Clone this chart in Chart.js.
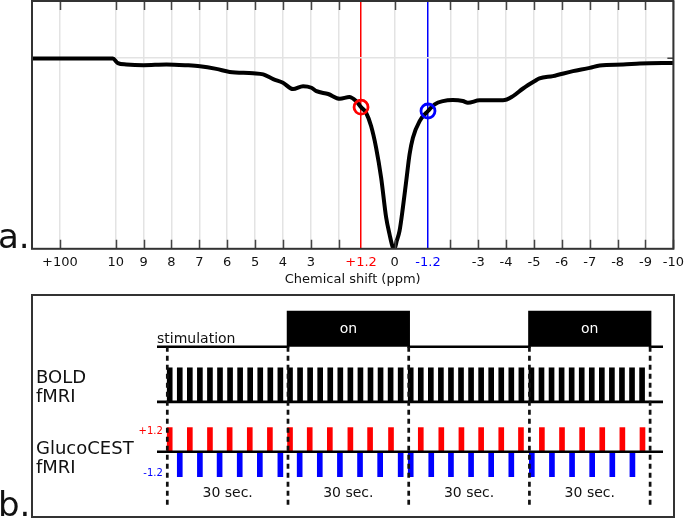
<!DOCTYPE html>
<html>
<head>
<meta charset="utf-8">
<script src="https://cdn.jsdelivr.net/npm/chart.js@4.4.1/dist/chart.umd.min.js"></script>
<style>
  html, body { margin: 0; padding: 0; background: #fff; }
  body { width: 685px; height: 519px; position: relative; overflow: hidden; font-family: "DejaVu Sans", sans-serif; color: #111; }
  #zChart { position: absolute; left: 0; top: 0; }
  #tChart { position: absolute; left: 0; top: 290px; }
  .box-b { position: absolute; left: 31px; top: 294px; width: 640px; height: 220px; border: 2px solid #333; }
  .big { position: absolute; left: -2px; font-size: 34px; line-height: 34px; }
  .row-label { position: absolute; left: 36px; font-size: 18px; line-height: 19px; }
</style>
</head>
<body>
<div class="box-b"></div>
<canvas id="zChart" width="690" height="287"></canvas>
<canvas id="tChart" width="685" height="229"></canvas>
<div class="big" style="top:219px">a.</div>
<div class="big" style="top:487px">b.</div>
<div class="row-label" style="top:367px">BOLD<br>fMRI</div>
<div class="row-label" style="top:438px">GlucoCEST<br>fMRI</div>

<script>
// ---- panel a: Z-spectrum ----
// x position 12 stands for the +100 ppm reference point
const ppmTicks = [12, 10, 9, 8, 7, 6, 5, 4, 3, 2, 1.2, 0, -1.2, -2, -3, -4, -5, -6, -7, -8, -9, -10];
const ppmTickLabels = ['+100', '10', '9', '8', '7', '6', '5', '4', '3', '', '+1.2', '0', '-1.2', '', '-3', '-4', '-5', '-6', '-7', '-8', '-9', '-10'];

const shiftPpm = [13.0, 12.0, 10.1, 9.92, 9.62, 9.0, 8.18, 7.46, 6.98, 6.39, 5.91, 5.07, 4.71, 4.35, 4.0, 3.64,
  3.28, 2.98, 2.8, 2.38, 1.96, 1.62, 1.38, 1.2, 1.02, 0.84, 0.66, 0.48, 0.3, 0.18, 0.06, 0,
  -0.08, -0.18, -0.3, -0.42, -0.54, -0.66, -0.9, -1.2, -1.44, -1.74, -2.09, -2.45, -2.63, -3.05, -3.41, -3.89,
  -4.25, -4.61, -5.03, -5.2, -5.68, -6.4, -7.0, -7.36, -8.2, -8.8, -10.0];
const zSignal = [0.998, 0.998, 0.998, 0.974, 0.967, 0.963, 0.967, 0.963, 0.958, 0.944, 0.928, 0.921, 0.915, 0.89, 0.871, 0.838,
  0.853, 0.845, 0.827, 0.812, 0.787, 0.796, 0.775, 0.743, 0.714, 0.644, 0.53, 0.373, 0.164, 0.077, 0.007, 0,
  0.042, 0.094, 0.216, 0.356, 0.496, 0.583, 0.67, 0.723, 0.758, 0.775, 0.78, 0.775, 0.766, 0.779, 0.779, 0.779,
  0.801, 0.841, 0.88, 0.894, 0.906, 0.932, 0.949, 0.962, 0.967, 0.972, 0.975];

const markerPpm = [1.2, -1.2];
const markerSignal = [0.743, 0.723];
const markerColors = ['#ff0000', '#0000ff'];

const RED = '#ff0000';
const BLUE = '#0000ff';

function tickColor(v) {
  if (v === 1.2) return RED;
  if (v === -1.2) return BLUE;
  return null;
}

// inward tick marks + plot frame
const frameTicks = {
  id: 'frameTicks',
  afterDraw(chart) {
    const { ctx, chartArea: a, scales } = chart;
    ctx.save();
    ctx.strokeStyle = '#444';
    ctx.lineWidth = 1.5;
    ctx.beginPath();
    ppmTicks.forEach(v => {
      if (tickColor(v)) return;
      const x = Math.round(scales.x.getPixelForValue(v)) + 0.5;
      ctx.moveTo(x, a.top);
      ctx.lineTo(x, a.top + 9);
      ctx.moveTo(x, a.bottom);
      ctx.lineTo(x, a.bottom - 9);
    });
    const y1 = scales.y.getPixelForValue(1);
    ctx.moveTo(a.right, y1);
    ctx.lineTo(a.right - 6, y1);
    ctx.stroke();
    ctx.strokeStyle = '#333';
    ctx.lineWidth = 2;
    ctx.strokeRect(a.left, a.top, a.right - a.left, a.bottom - a.top);
    ctx.restore();
  }
};

new Chart(document.getElementById('zChart'), {
  type: 'line',
  data: {
    datasets: [
      {
        data: shiftPpm.map((x, i) => ({ x: x, y: zSignal[i] })),
        borderColor: '#000',
        borderWidth: 4,
        pointRadius: 0,
        cubicInterpolationMode: 'monotone',
        order: 2
      },
      {
        type: 'scatter',
        data: markerPpm.map((x, i) => ({ x: x, y: markerSignal[i] })),
        pointRadius: 7,
        pointBorderWidth: 2.8,
        pointBackgroundColor: 'rgba(0,0,0,0)',
        pointBorderColor: markerColors,
        order: 1
      }
    ]
  },
  options: {
    responsive: false,
    animation: false,
    layout: { autoPadding: false, padding: { left: 32, right: 12, top: 1, bottom: 0 } },
    plugins: { legend: { display: false }, tooltip: { enabled: false } },
    scales: {
      x: {
        type: 'linear',
        reverse: true,
        min: -10,
        max: 13,
        afterBuildTicks: scale => { scale.ticks = ppmTicks.map(v => ({ value: v })); },
        grid: {
          drawTicks: false,
          color: c => tickColor(c.tick && c.tick.value) || '#e3e3e3',
          lineWidth: 1.5
        },
        border: { display: false },
        ticks: {
          autoSkip: false,
          maxRotation: 0,
          padding: 6,
          font: { family: 'DejaVu Sans', size: 13 },
          color: c => tickColor(c.tick && c.tick.value) || '#111',
          callback: (v, i) => ppmTickLabels[i]
        },
        title: {
          display: true,
          text: 'Chemical shift (ppm)',
          color: '#111',
          font: { family: 'DejaVu Sans', size: 13 },
          padding: { top: -5, bottom: 0 }
        }
      },
      y: {
        min: 0,
        max: 1.3,
        afterBuildTicks: scale => { scale.ticks = [{ value: 1 }]; },
        ticks: { display: false },
        grid: { drawTicks: false, color: '#e3e3e3', lineWidth: 1.5 },
        border: { display: false }
      }
    }
  },
  plugins: [frameTicks]
});

// ---- panel b: acquisition timing ----
const blockEdges = [0, 30, 60, 90, 120];
const blockLabels = ['30 sec.', '30 sec.', '30 sec.', '30 sec.'];
const stimOnStart = [30, 90];
const stimOnEnd = [60, 120];

const boldTimes = [0.6, 3.1, 5.6, 8.1, 10.6, 13.1, 15.6, 18.1, 20.6, 23.1, 25.6, 28.1,
  30.5, 33.0, 35.5, 38.0, 40.5, 43.0, 45.5, 48.0, 50.5, 53.0, 55.5, 58.0,
  60.5, 63.0, 65.5, 68.0, 70.5, 73.0, 75.5, 78.0, 80.5, 83.0, 85.5, 88.0,
  90.5, 93.0, 95.5, 98.0, 100.5, 103.0, 105.5, 108.0, 110.5, 113.0, 115.5, 118.0];
const plusTimes = [0.6, 5.6, 10.6, 15.5, 20.5, 25.5, 30.5, 35.4, 40.4, 45.5, 50.4, 55.6,
  63.0, 68.1, 73.1, 78.0, 83.0, 87.9, 93.1, 98.1, 103.1, 108.1, 113.1, 118.1];
const minusTimes = [3.1, 8.1, 13.0, 18.0, 23.0, 28.1, 32.9, 37.9, 42.9, 47.9, 52.9, 58.0,
  60.5, 65.6, 70.5, 75.5, 80.5, 85.5, 90.6, 95.6, 100.6, 105.6, 110.6, 115.6];

// vertical layout of the rows (y units)
const tMin = -2.56, tMax = 123.2;
const rows = {
  yMin: -1.98, yMax: 4.76,
  stimBase: 3.09, stimTop: 4.11,
  boldBase: 1.47, boldTop: 2.47,
  glucoBase: 0, plusTop: 0.71, minusBottom: -0.735,
  dashBottom: -1.57,
  secLabel: -1.215, onLabel: 3.61, stimLabel: 3.2,
  plusLabel: 0.59, minusLabel: -0.63
};

const stimPoints = [{ x: tMin, y: rows.stimBase }];
stimOnStart.forEach((s, i) => {
  stimPoints.push({ x: s, y: rows.stimBase }, { x: s, y: rows.stimTop },
    { x: stimOnEnd[i], y: rows.stimTop }, { x: stimOnEnd[i], y: rows.stimBase });
});
stimPoints.push({ x: tMax, y: rows.stimBase });

const dashPoints = [];
blockEdges.forEach(t => {
  dashPoints.push({ x: t, y: rows.stimBase }, { x: t, y: rows.dashBottom }, { x: t, y: null });
});

const timingText = {
  id: 'timingText',
  afterDraw(chart) {
    const { ctx, scales: { x, y }, chartArea: a } = chart;
    ctx.save();
    ctx.font = '14px "DejaVu Sans"';
    ctx.textBaseline = 'middle';
    ctx.textAlign = 'center';
    ctx.fillStyle = '#111';
    blockLabels.forEach((lab, i) => {
      ctx.fillText(lab, x.getPixelForValue((blockEdges[i] + blockEdges[i + 1]) / 2), y.getPixelForValue(rows.secLabel));
    });
    ctx.fillStyle = '#fff';
    stimOnStart.forEach((s, i) => {
      ctx.fillText('on', x.getPixelForValue((s + stimOnEnd[i]) / 2), y.getPixelForValue(rows.onLabel));
    });
    ctx.fillStyle = '#111';
    ctx.textAlign = 'left';
    ctx.textBaseline = 'alphabetic';
    ctx.fillText('stimulation', a.left, y.getPixelForValue(rows.stimLabel));
    ctx.font = '10px "DejaVu Sans"';
    ctx.textAlign = 'right';
    ctx.textBaseline = 'middle';
    const xr = x.getPixelForValue(0) - 4.5;
    ctx.fillStyle = RED;
    ctx.fillText('+1.2', xr, y.getPixelForValue(rows.plusLabel));
    ctx.fillStyle = BLUE;
    ctx.fillText('-1.2', xr, y.getPixelForValue(rows.minusLabel));
    ctx.restore();
  }
};

function baseline(level) {
  return {
    type: 'line',
    data: [{ x: tMin, y: level }, { x: tMax, y: level }],
    borderColor: '#000',
    borderWidth: 2.7,
    pointRadius: 0,
    order: 1
  };
}

new Chart(document.getElementById('tChart'), {
  type: 'bar',
  data: {
    datasets: [
      {
        type: 'line',
        data: stimPoints,
        borderColor: '#000',
        borderWidth: 2.5,
        backgroundColor: '#000',
        fill: { value: rows.stimBase },
        pointRadius: 0,
        tension: 0,
        order: 1
      },
      baseline(rows.boldBase),
      baseline(rows.glucoBase),
      {
        data: boldTimes.map(t => ({ x: t, y: [rows.boldBase, rows.boldTop] })),
        backgroundColor: '#000',
        barThickness: 5,
        grouped: false,
        order: 3
      },
      {
        data: plusTimes.map(t => ({ x: t, y: [rows.glucoBase, rows.plusTop] })),
        backgroundColor: RED,
        barThickness: 5,
        grouped: false,
        order: 3
      },
      {
        data: minusTimes.map(t => ({ x: t, y: [rows.minusBottom, rows.glucoBase] })),
        backgroundColor: BLUE,
        barThickness: 5,
        grouped: false,
        order: 3
      },
      {
        type: 'line',
        data: dashPoints,
        borderColor: '#111',
        borderWidth: 2.7,
        borderDash: [5, 4],
        pointRadius: 0,
        spanGaps: false,
        order: 0
      }
    ]
  },
  options: {
    responsive: false,
    animation: false,
    layout: { autoPadding: false, padding: { left: 157, right: 22, top: 0, bottom: 0 } },
    plugins: { legend: { display: false }, tooltip: { enabled: false } },
    scales: {
      x: { type: 'linear', offset: false, min: tMin, max: tMax, display: false },
      y: { min: rows.yMin, max: rows.yMax, display: false }
    }
  },
  plugins: [timingText]
});
</script>
</body>
</html>
